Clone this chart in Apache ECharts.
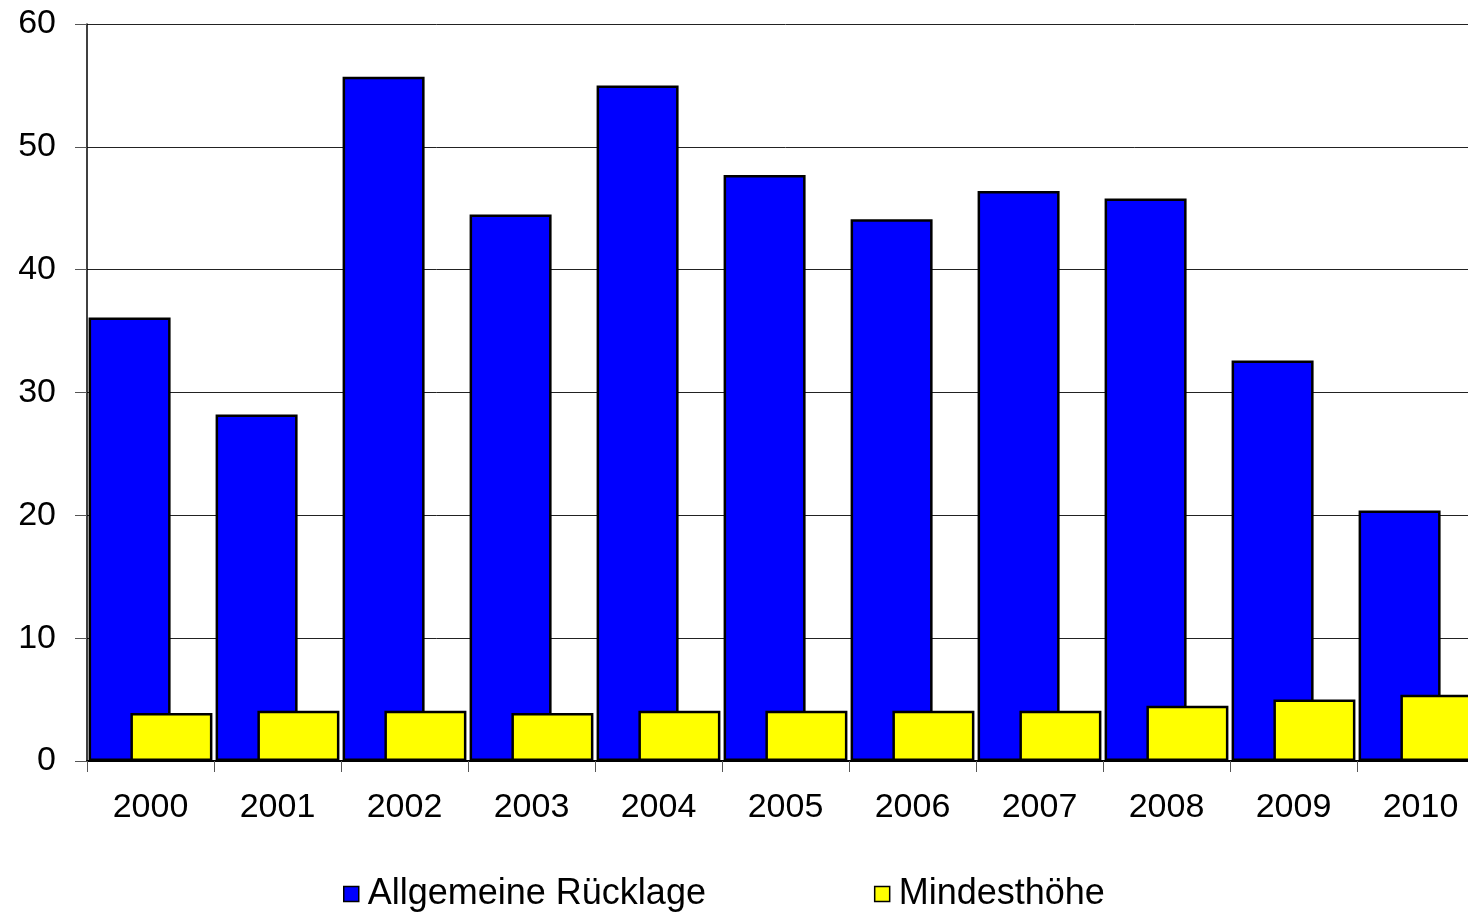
<!DOCTYPE html>
<html>
<head>
<meta charset="utf-8">
<title>Allgemeine Rücklage</title>
<script src="https://cdn.jsdelivr.net/npm/echarts@6/dist/echarts.min.js"></script>
<style>
  html, body { margin: 0; padding: 0; background: #fff; overflow: hidden; }
  /* the plot runs past the right edge of the picture, so the chart is a bit wider than the window */
  #chart { width: 1484px; height: 912px; }
</style>
</head>
<body>
<div id="chart"></div>
<script>
// data
const years = ['2000', '2001', '2002', '2003', '2004', '2005', '2006', '2007', '2008', '2009', '2010']
const ruecklage = [36.1, 28.2, 55.7, 44.5, 55.0, 47.7, 44.1, 46.4, 45.8, 32.6, 20.4]
const mindesthoehe = [3.9, 4.1, 4.1, 3.9, 4.1, 4.1, 4.1, 4.1, 4.5, 5.0, 5.4]
const seriesNames = ['Allgemeine Rücklage', 'Mindesthöhe']

const font = '"Liberation Sans", Arial, Helvetica, sans-serif'

const chart = echarts.init(document.getElementById('chart'), null, { renderer: 'canvas' })
chart.setOption({
  animation: false,
  backgroundColor: '#ffffff',
  grid: { left: 87, top: 24, right: 0, bottom: 151 },
  legend: {
    data: seriesNames,
    left: 338,
    top: 871,
    icon: 'rect',
    itemWidth: 15,
    itemHeight: 15,
    itemGap: 168,
    itemStyle: { borderColor: '#000', borderWidth: 1.5 },
    textStyle: { fontFamily: font, fontSize: 36, color: '#000', padding: [0, 0, 0, 4] }
  },
  xAxis: {
    type: 'category',
    data: years,
    axisLine: { lineStyle: { color: '#000', width: 2 } },
    axisTick: { show: true, inside: false, length: 11, lineStyle: { color: '#555', width: 1 } },
    axisLabel: { fontFamily: font, fontSize: 34, color: '#000', margin: 30 },
    splitLine: { show: false }
  },
  yAxis: {
    type: 'value',
    min: 0,
    max: 60,
    interval: 10,
    axisLine: { show: true, lineStyle: { color: '#000', width: 1.5 } },
    axisTick: { show: true, length: 12, lineStyle: { color: '#555', width: 1 } },
    axisLabel: { fontFamily: font, fontSize: 34, color: '#000', margin: 31 },
    splitLine: { show: true, lineStyle: { color: '#222', width: 1 } }
  },
  series: [
    {
      name: seriesNames[0],
      type: 'bar',
      data: ruecklage,
      barWidth: 82,
      barGap: '-49%',
      itemStyle: { color: '#0000ff', borderColor: '#000', borderWidth: 2.5 }
    },
    {
      name: seriesNames[1],
      type: 'bar',
      data: mindesthoehe,
      barWidth: 82,
      itemStyle: { color: '#ffff00', borderColor: '#000', borderWidth: 2.5 }
    }
  ]
})
</script>
</body>
</html>
